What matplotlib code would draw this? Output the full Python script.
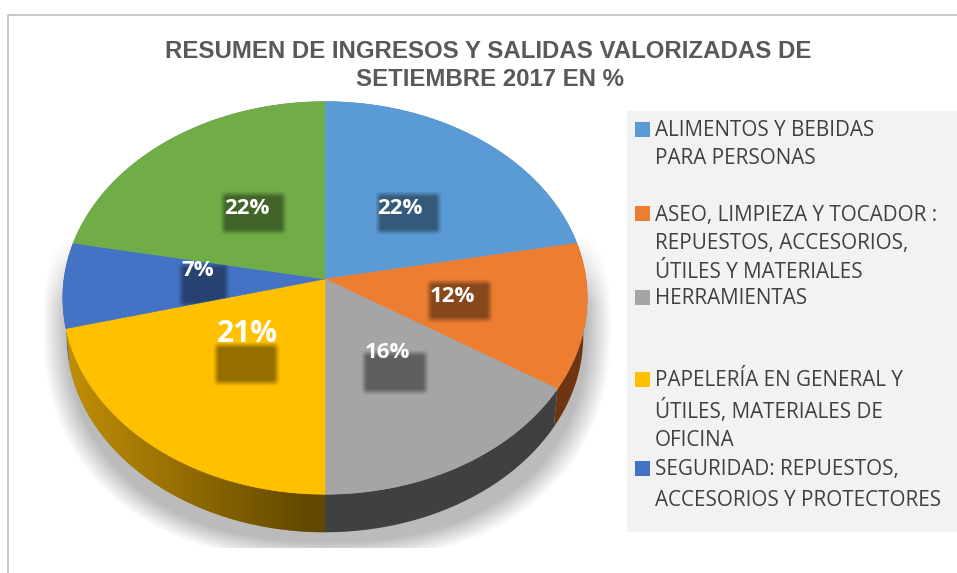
import numpy as np
import matplotlib
matplotlib.use("Agg")
import matplotlib.pyplot as plt
from matplotlib.patches import Polygon, Rectangle

# Datos del grafico
valores = [22, 12, 16, 21, 7, 22]
colores = ["#5b9bd5", "#ed7d31", "#a5a5a5", "#ffc000", "#4472c4", "#70ad47"]
titulo = ["RESUMEN DE INGRESOS Y SALIDAS VALORIZADAS DE", "SETIEMBRE 2017 EN %"]
leyenda = [
    ["ALIMENTOS Y BEBIDAS", "PARA PERSONAS"],
    ["ASEO, LIMPIEZA Y TOCADOR :", "REPUESTOS, ACCESORIOS,", "ÚTILES Y MATERIALES"],
    ["HERRAMIENTAS"],
    ["PAPELERÍA EN GENERAL Y", "ÚTILES, MATERIALES DE", "OFICINA"],
    ["SEGURIDAD: REPUESTOS,", "ACCESORIOS Y PROTECTORES"],
]

# Posiciones en pixeles
etiq_xy = [(400, 209), (452, 297), (387, 352), (247, 334), (198, 270), (247, 209)]
etiq_size = [16, 16, 16, 21.5, 16, 16]
sombra_caja = [(378, 194, 439, 232), (429, 282, 490, 320), (364, 353, 426, 392),
               (216, 345, 277, 383), (181, 265, 227, 305), (223, 194, 284, 232)]
ley_y = [[131, 159], [215, 244, 273], [299], [381, 411, 440], [470, 500]]
cx, cy = 325, 279
a, b, k = 261, 194.5, 0.0964
alto = 38
W, H = 957, 573


def borde(ang, baja=False):
    # punto del borde del pastel en perspectiva (angulo desde arriba, horario)
    u, v = np.sin(ang), np.cos(ang)
    x = a * u / (1 + k * v)
    y = b * v / (1 + k * v)
    if baja:
        return cx + 0.985 * x, cy - y + alto
    return cx + x, cy - y


def caja_suave(ax, caja, clip, borde_px=6.0, alfa=0.42):
    x0, y0, x1, y1 = caja
    xx, yy = np.meshgrid(np.arange(W) + 0.5, np.arange(H) + 0.5)
    ax_x = np.clip((xx - x0) / borde_px + 0.5, 0, 1) * np.clip((x1 - xx) / borde_px + 0.5, 0, 1)
    ax_y = np.clip((yy - y0) / borde_px + 0.5, 0, 1) * np.clip((y1 - yy) / borde_px + 0.5, 0, 1)
    img = np.zeros((H, W, 4))
    img[..., 3] = ax_x * ax_y * alfa
    im = ax.imshow(img, extent=(0, W, H, 0), zorder=4, interpolation="bilinear")
    im.set_clip_path(clip)


fig = plt.figure(figsize=(9.57, 5.73), dpi=100, facecolor="white")
ax = fig.add_axes([0, 0, 1, 1])
ax.axis("off")

# Sombra bajo el pastel
xx, yy = np.meshgrid(np.arange(W) + 0.5, np.arange(H) + 0.5)
r = (np.abs((xx - 327) / 285) ** 2.3 + np.abs((yy - 325) / 238) ** 2.3) ** (1 / 2.3)
alfa = np.clip((1 - r) / 0.09, 0, 1) * 0.27
alfa *= np.clip((yy - 235) / 70, 0, 1)
alfa[yy > 548] = 0
sombra = np.zeros((H, W, 4))
sombra[..., 3] = alfa
ax.imshow(sombra, extent=(0, W, H, 0), zorder=1)

# Angulos de cada porcion
cortes = np.cumsum([0] + valores) / sum(valores) * 2 * np.pi

# Pared lateral
colores_pared = ["#2e5f8c", "#6e3512", "#404040", None, "#2f4f8a", "#4a7530"]
for i, val in enumerate(valores):
    t = np.linspace(cortes[i], cortes[i + 1], 120)
    if not np.any(np.cos(t) < 0.3):
        continue
    xs, ys = borde(t)
    xb, yb = borde(t, baja=True)
    pts = np.column_stack([np.r_[xs, xb[::-1]], np.r_[ys, yb[::-1]]])
    pared = Polygon(pts, closed=True, fc=colores_pared[i] or "#8a6800", ec="none", zorder=2)
    ax.add_patch(pared)
    if colores_pared[i] is None:
        # degradado de la pared amarilla
        c1 = np.array([0.76, 0.56, 0.03])
        c2 = np.array([0.39, 0.29, 0.0])
        f = np.clip((np.arange(W) + 0.5 - 65) / 240, 0, 1)[None, :, None]
        grad = c1 * (1 - f) + c2 * f
        im = ax.imshow(np.repeat(grad, H, axis=0), extent=(0, W, H, 0), zorder=2.1)
        im.set_clip_path(pared)

# Cara superior y etiquetas
caras = []
for i, val in enumerate(valores):
    t = np.linspace(cortes[i], cortes[i + 1], 120)
    xs, ys = borde(t)
    pts = np.column_stack([np.r_[cx, xs], np.r_[cy, ys]])
    cara = Polygon(pts, closed=True, fc=colores[i], ec=colores[i], lw=0.4, zorder=3)
    ax.add_patch(cara)
    caras.append(cara)

for i, val in enumerate(valores):
    caja_suave(ax, sombra_caja[i], caras[i])
    ax.text(etiq_xy[i][0], etiq_xy[i][1], f"{val}%", color="white", fontsize=etiq_size[i],
            fontfamily="Open Sans", fontweight="bold", ha="center", va="center", zorder=5)

# Titulo
ax.text(488, 51, titulo[0], fontfamily="Liberation Sans", fontweight="bold", fontsize=17.3,
        color="#595959", ha="center", va="center", zorder=6)
ax.text(490, 80, titulo[1], fontfamily="Liberation Sans", fontweight="bold", fontsize=17.3,
        color="#595959", ha="center", va="center", zorder=6)

# Leyenda
ax.add_patch(Rectangle((627, 111), 330, 421, fc="#f2f2f2", ec="none", zorder=1))
idx_color = 0
for lineas, ys in zip(leyenda, ley_y):
    ax.add_patch(Rectangle((635, ys[0] - 9), 15, 15, fc=colores[idx_color], ec="none", zorder=6))
    idx_color += 1
    for txt, y in zip(lineas, ys):
        ax.text(655, y, txt, fontfamily="Open Sans", fontsize=14.9, color="#404040",
                ha="left", va="center", zorder=6)

# Marco
ax.plot([8, 8, W], [H, 15, 15], color="#bfbfbf", lw=1.2, zorder=7)

ax.set_xlim(0, W)
ax.set_ylim(H, 0)
ax.set_aspect("auto")
fig.savefig("out.png", dpi=100)
